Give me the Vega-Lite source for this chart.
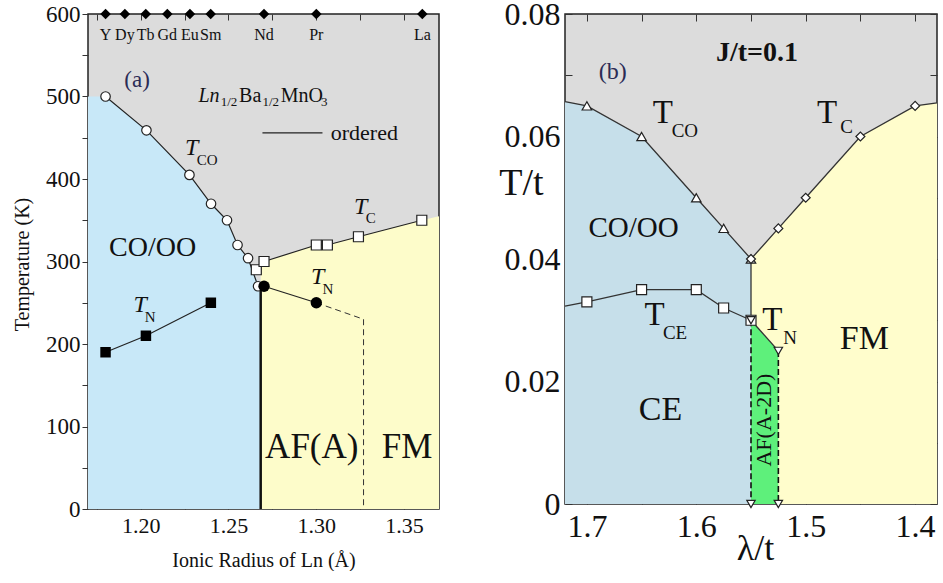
{
  "$schema": "https://vega.github.io/schema/vega-lite/v6.json",
  "padding": {"left": 11, "top": -3, "right": 0, "bottom": 0},
  "background": "white",
  "bounds": "flush",
  "spacing": 126,
  "config": {
    "font": "Liberation Serif, serif",
    "view": {"stroke": "#222", "strokeWidth": 1.5, "fill": "#dcdcdc"},
    "text": {"font": "Liberation Serif, serif"},
    "axis": {"domain": false, "grid": false, "tickColor": "#333", "labelColor": "#111", "titleColor": "#111", "labelFont": "Liberation Serif, serif", "titleFont": "Liberation Serif, serif", "titleFontWeight": "normal"}
  },
  "datasets": {
    "L_blue": [
      {"x": 1.17, "y": 500}, {"x": 1.18, "y": 500}, {"x": 1.2033, "y": 459}, {"x": 1.2278, "y": 405},
      {"x": 1.2401, "y": 370}, {"x": 1.2492, "y": 350}, {"x": 1.2552, "y": 320}, {"x": 1.2612, "y": 304},
      {"x": 1.2669, "y": 275}, {"x": 1.2684, "y": 268}
    ],
    "L_yellow": [
      {"x": 1.2684, "y": 292}, {"x": 1.2703, "y": 300}, {"x": 1.3001, "y": 320}, {"x": 1.3064, "y": 320},
      {"x": 1.3241, "y": 330}, {"x": 1.3602, "y": 350}, {"x": 1.37, "y": 355}
    ],
    "L_lines": [
      {"s": "co", "o": 1, "x": 1.18, "y": 500}, {"s": "co", "o": 2, "x": 1.2033, "y": 459},
      {"s": "co", "o": 3, "x": 1.2278, "y": 405}, {"s": "co", "o": 4, "x": 1.2401, "y": 370},
      {"s": "co", "o": 5, "x": 1.2492, "y": 350}, {"s": "co", "o": 6, "x": 1.2552, "y": 320},
      {"s": "co", "o": 7, "x": 1.2612, "y": 304}, {"s": "co", "o": 8, "x": 1.2669, "y": 270},
      {"s": "tc", "o": 1, "x": 1.2703, "y": 300}, {"s": "tc", "o": 2, "x": 1.3001, "y": 320},
      {"s": "tc", "o": 3, "x": 1.3064, "y": 320}, {"s": "tc", "o": 4, "x": 1.3241, "y": 330},
      {"s": "tc", "o": 5, "x": 1.3602, "y": 350},
      {"s": "tnr", "o": 1, "x": 1.2703, "y": 270}, {"s": "tnr", "o": 2, "x": 1.3001, "y": 250},
      {"s": "tnl", "o": 1, "x": 1.18, "y": 190}, {"s": "tnl", "o": 2, "x": 1.203, "y": 210},
      {"s": "tnl", "o": 3, "x": 1.24, "y": 250},
      {"s": "leg", "o": 1, "x": 1.2694, "y": 456}, {"s": "leg", "o": 2, "x": 1.3036, "y": 456},
      {"s": "vert", "o": 1, "x": 1.2684, "y": 0}, {"s": "vert", "o": 2, "x": 1.2684, "y": 270},
      {"s": "dash", "o": 1, "x": 1.3001, "y": 250}, {"s": "dash", "o": 2, "x": 1.327, "y": 230},
      {"s": "dash", "o": 3, "x": 1.327, "y": 0}
    ],
    "L_pts": [
      {"t": "co", "x": 1.18, "y": 500}, {"t": "co", "x": 1.2033, "y": 459}, {"t": "co", "x": 1.2278, "y": 405},
      {"t": "co", "x": 1.2401, "y": 370}, {"t": "co", "x": 1.2492, "y": 350}, {"t": "co", "x": 1.2552, "y": 320},
      {"t": "co", "x": 1.2612, "y": 304}, {"t": "co", "x": 1.2669, "y": 270},
      {"t": "sqo", "x": 1.2659, "y": 290}, {"t": "sqo", "x": 1.2703, "y": 300}, {"t": "sqo", "x": 1.3001, "y": 320},
      {"t": "sqo", "x": 1.3064, "y": 320}, {"t": "sqo", "x": 1.3241, "y": 330}, {"t": "sqo", "x": 1.3602, "y": 350},
      {"t": "cf", "x": 1.2703, "y": 270}, {"t": "cf", "x": 1.3001, "y": 250},
      {"t": "sqf", "x": 1.18, "y": 190}, {"t": "sqf", "x": 1.203, "y": 210}, {"t": "sqf", "x": 1.24, "y": 250}
    ],
    "L_elem": [
      {"t": "Y", "x": 1.18, "y": 600}, {"t": "Dy", "x": 1.191, "y": 600}, {"t": "Tb", "x": 1.2029, "y": 600},
      {"t": "Gd", "x": 1.2152, "y": 600}, {"t": "Eu", "x": 1.2281, "y": 600}, {"t": "Sm", "x": 1.2399, "y": 600},
      {"t": "Nd", "x": 1.2703, "y": 600}, {"t": "Pr", "x": 1.3001, "y": 600}, {"t": "La", "x": 1.3605, "y": 600}
    ],
    "L_text": [
      {"k": "big28", "t": "CO/OO", "x": 1.2068, "y": 316},
      {"k": "big35", "t": "AF(A)", "x": 1.2975, "y": 75},
      {"k": "big35", "t": "FM", "x": 1.3518, "y": 75},
      {"k": "panel", "t": "(a)", "x": 1.198, "y": 520},
      {"k": "ord", "t": "ordered", "x": 1.3083, "y": 456},
      {"k": "elem", "t": "Y", "x": 1.18, "y": 574}, {"k": "elem", "t": "Dy", "x": 1.191, "y": 574},
      {"k": "elem", "t": "Tb", "x": 1.2029, "y": 574}, {"k": "elem", "t": "Gd", "x": 1.2152, "y": 574},
      {"k": "elem", "t": "Eu", "x": 1.2281, "y": 574}, {"k": "elem", "t": "Sm", "x": 1.2399, "y": 574},
      {"k": "elem", "t": "Nd", "x": 1.2703, "y": 574}, {"k": "elem", "t": "Pr", "x": 1.3001, "y": 574},
      {"k": "elem", "t": "La", "x": 1.3605, "y": 574},
      {"k": "Tit", "t": "T", "x": 1.2253, "y": 429}, {"k": "sub", "t": "CO", "x": 1.232, "y": 417},
      {"k": "Tit", "t": "T", "x": 1.3216, "y": 358}, {"k": "sub", "t": "C", "x": 1.3283, "y": 347},
      {"k": "Tit", "t": "T", "x": 1.297, "y": 273}, {"k": "sub", "t": "N", "x": 1.3036, "y": 261},
      {"k": "Tit", "t": "T", "x": 1.1959, "y": 239}, {"k": "sub", "t": "N", "x": 1.2023, "y": 227},
      {"k": "fi", "t": "Ln", "x": 1.2329, "y": 493.5},
      {"k": "fs", "t": "1/2", "x": 1.2456, "y": 489},
      {"k": "fm", "t": "Ba", "x": 1.2561, "y": 493.5},
      {"k": "fs", "t": "1/2", "x": 1.2694, "y": 489},
      {"k": "fm", "t": "MnO", "x": 1.2798, "y": 493.5},
      {"k": "fs", "t": "3", "x": 1.3028, "y": 489}
    ],
    "R_blue": [
      {"x": 1.72, "y": 0.0657}, {"x": 1.7, "y": 0.065}, {"x": 1.65, "y": 0.06}, {"x": 1.6, "y": 0.05},
      {"x": 1.575, "y": 0.045}, {"x": 1.55, "y": 0.04}
    ],
    "R_yellow": [
      {"x": 1.55, "y": 0.04}, {"x": 1.525, "y": 0.045}, {"x": 1.5, "y": 0.05}, {"x": 1.45, "y": 0.06},
      {"x": 1.4, "y": 0.065}, {"x": 1.38, "y": 0.0655}
    ],
    "R_green": [
      {"x": 1.55, "y": 0.03}, {"x": 1.525, "y": 0.025}
    ],
    "R_lines": [
      {"s": "tco", "o": 1, "x": 1.72, "y": 0.0657}, {"s": "tco", "o": 2, "x": 1.7, "y": 0.065},
      {"s": "tco", "o": 3, "x": 1.65, "y": 0.06}, {"s": "tco", "o": 4, "x": 1.6, "y": 0.05},
      {"s": "tco", "o": 5, "x": 1.575, "y": 0.045}, {"s": "tco", "o": 6, "x": 1.55, "y": 0.04},
      {"s": "tc", "o": 1, "x": 1.55, "y": 0.04}, {"s": "tc", "o": 2, "x": 1.525, "y": 0.045},
      {"s": "tc", "o": 3, "x": 1.5, "y": 0.05}, {"s": "tc", "o": 4, "x": 1.45, "y": 0.06},
      {"s": "tc", "o": 5, "x": 1.4, "y": 0.065}, {"s": "tc", "o": 6, "x": 1.38, "y": 0.0655},
      {"s": "tce", "o": 1, "x": 1.72, "y": 0.0323}, {"s": "tce", "o": 2, "x": 1.7, "y": 0.033},
      {"s": "tce", "o": 3, "x": 1.65, "y": 0.035}, {"s": "tce", "o": 4, "x": 1.6, "y": 0.035},
      {"s": "tce", "o": 5, "x": 1.575, "y": 0.032}, {"s": "tce", "o": 6, "x": 1.55, "y": 0.03},
      {"s": "tn", "o": 1, "x": 1.55, "y": 0.03}, {"s": "tn", "o": 2, "x": 1.525, "y": 0.025},
      {"s": "v1", "o": 1, "x": 1.55, "y": 0.04}, {"s": "v1", "o": 2, "x": 1.55, "y": 0.03},
      {"s": "d1", "o": 1, "x": 1.55, "y": 0.03}, {"s": "d1", "o": 2, "x": 1.55, "y": 0},
      {"s": "d2", "o": 1, "x": 1.525, "y": 0.025}, {"s": "d2", "o": 2, "x": 1.525, "y": 0}
    ],
    "R_pts": [
      {"t": "tri", "x": 1.7, "y": 0.065}, {"t": "tri", "x": 1.65, "y": 0.06}, {"t": "tri", "x": 1.6, "y": 0.05},
      {"t": "tri", "x": 1.575, "y": 0.045}, {"t": "tri", "x": 1.55, "y": 0.04},
      {"t": "dia", "x": 1.55, "y": 0.04}, {"t": "dia", "x": 1.525, "y": 0.045}, {"t": "dia", "x": 1.5, "y": 0.05},
      {"t": "dia", "x": 1.45, "y": 0.06}, {"t": "dia", "x": 1.4, "y": 0.065},
      {"t": "sq", "x": 1.7, "y": 0.033}, {"t": "sq", "x": 1.65, "y": 0.035}, {"t": "sq", "x": 1.6, "y": 0.035},
      {"t": "sq", "x": 1.575, "y": 0.032}, {"t": "sq", "x": 1.55, "y": 0.03},
      {"t": "trid", "x": 1.55, "y": 0.03}, {"t": "trid", "x": 1.525, "y": 0.025},
      {"t": "trid", "x": 1.55, "y": 0.0}, {"t": "trid", "x": 1.525, "y": 0.0}
    ],
    "R_text": [
      {"k": "T", "t": "T", "x": 1.6397, "y": 0.0622}, {"k": "sub", "t": "CO", "x": 1.6225, "y": 0.0599},
      {"k": "T", "t": "T", "x": 1.4897, "y": 0.0622}, {"k": "sub", "t": "C", "x": 1.4685, "y": 0.0605},
      {"k": "T", "t": "T", "x": 1.6473, "y": 0.0292}, {"k": "sub", "t": "CE", "x": 1.6305, "y": 0.0269},
      {"k": "T", "t": "T", "x": 1.5397, "y": 0.0284}, {"k": "sub", "t": "N", "x": 1.5205, "y": 0.0262},
      {"k": "panel", "t": "(b)", "x": 1.6764, "y": 0.0705},
      {"k": "J", "t": "J/t=0.1", "x": 1.5445, "y": 0.0736},
      {"k": "big29", "t": "CO/OO", "x": 1.6573, "y": 0.045},
      {"k": "big34", "t": "CE", "x": 1.6327, "y": 0.0153},
      {"k": "big34", "t": "FM", "x": 1.4464, "y": 0.0269},
      {"k": "rot", "t": "AF(A-2D)", "x": 1.5382, "y": 0.0137}
    ]
  },
  "hconcat": [
    {
      "width": 351,
      "height": 495,
      "resolve": {"axis": {"x": "independent", "y": "independent"}},
      "layer": [
        {
          "encoding": {
            "x": {"field": "x", "type": "quantitative", "scale": {"domain": [1.17, 1.37], "nice": false, "zero": false},
              "axis": {"title": "Ionic Radius of Ln (Å)", "titleFontSize": 20, "titleY": 51, "titleBaseline": "middle",
                "values": [1.175, 1.2, 1.225, 1.25, 1.275, 1.3, 1.325, 1.35],
                "labelExpr": "abs(datum.value*20 - round(datum.value*20)) < 0.001 ? format(datum.value, '.2f') : ''",
                "labelFontSize": 22, "tickSize": -6, "labelPadding": 12}},
            "y": {"field": "y", "type": "quantitative", "scale": {"domain": [0, 600], "nice": false},
              "axis": {"title": "Temperature (K)", "titleFontSize": 20, "titleX": -66, "titleY": 250, "titleBaseline": "middle", "titleAlign": "center",
                "values": [0, 50, 100, 150, 200, 250, 300, 350, 400, 450, 500, 550, 600],
                "labelExpr": "datum.value % 100 == 0 ? datum.label : ''",
                "labelFontSize": 23, "tickSize": 6, "labelPadding": 2}}
          },
          "layer": [
            {"data": {"name": "L_blue"}, "mark": {"type": "area", "color": "#c8e8f8", "opacity": 1}, "encoding": {"y2": {"datum": 0}}},
            {"data": {"name": "L_yellow"}, "mark": {"type": "area", "color": "#fdfcca", "opacity": 1}, "encoding": {"y2": {"datum": 0}}},
            {"data": {"name": "L_lines"}, "transform": [{"filter": "indexof(['co','tc','tnr','tnl','leg'], datum.s) >= 0"}],
              "mark": {"type": "line", "color": "#222", "strokeWidth": 1.2},
              "encoding": {"detail": {"field": "s"}, "order": {"field": "o"}}},
            {"data": {"name": "L_lines"}, "transform": [{"filter": "datum.s == 'vert'"}],
              "mark": {"type": "line", "color": "#111", "strokeWidth": 2.5},
              "encoding": {"order": {"field": "o"}}},
            {"data": {"name": "L_lines"}, "transform": [{"filter": "datum.s == 'dash'"}],
              "mark": {"type": "line", "color": "#333", "strokeWidth": 1, "strokeDash": [6, 4]},
              "encoding": {"order": {"field": "o"}}},
            {"data": {"name": "L_pts"}, "transform": [{"filter": "datum.t == 'co'"}],
              "mark": {"type": "point", "shape": "circle", "filled": true, "fill": "white", "stroke": "#222", "strokeWidth": 1.2, "size": 90, "opacity": 1}},
            {"data": {"name": "L_pts"}, "transform": [{"filter": "datum.t == 'sqo'"}],
              "mark": {"type": "point", "shape": "square", "filled": true, "fill": "white", "stroke": "#222", "strokeWidth": 1.2, "size": 100, "opacity": 1}},
            {"data": {"name": "L_pts"}, "transform": [{"filter": "datum.t == 'cf'"}],
              "mark": {"type": "point", "shape": "circle", "filled": true, "color": "#000", "size": 130, "opacity": 1}},
            {"data": {"name": "L_pts"}, "transform": [{"filter": "datum.t == 'sqf'"}],
              "mark": {"type": "point", "shape": "square", "filled": true, "color": "#000", "size": 110, "opacity": 1}},
            {"data": {"name": "L_text"}, "transform": [{"filter": "datum.k == 'big28'"}],
              "mark": {"type": "text", "fontSize": 28, "align": "center", "baseline": "middle", "color": "#111"},
              "encoding": {"text": {"field": "t"}}},
            {"data": {"name": "L_text"}, "transform": [{"filter": "datum.k == 'big35'"}],
              "mark": {"type": "text", "fontSize": 35, "align": "center", "baseline": "middle", "color": "#111"},
              "encoding": {"text": {"field": "t"}}},
            {"data": {"name": "L_text"}, "transform": [{"filter": "datum.k == 'panel'"}],
              "mark": {"type": "text", "fontSize": 23, "align": "center", "baseline": "middle", "color": "#2b2b55"},
              "encoding": {"text": {"field": "t"}}},
            {"data": {"name": "L_text"}, "transform": [{"filter": "datum.k == 'ord'"}],
              "mark": {"type": "text", "fontSize": 22, "align": "left", "baseline": "middle", "color": "#111"},
              "encoding": {"text": {"field": "t"}}},
            {"data": {"name": "L_text"}, "transform": [{"filter": "datum.k == 'elem'"}],
              "mark": {"type": "text", "fontSize": 16, "align": "center", "baseline": "middle", "color": "#111"},
              "encoding": {"text": {"field": "t"}}},
            {"data": {"name": "L_text"}, "transform": [{"filter": "datum.k == 'Tit'"}],
              "mark": {"type": "text", "fontSize": 24, "fontStyle": "italic", "align": "left", "baseline": "alphabetic", "color": "#111"},
              "encoding": {"text": {"field": "t"}}},
            {"data": {"name": "L_text"}, "transform": [{"filter": "datum.k == 'sub'"}],
              "mark": {"type": "text", "fontSize": 15, "align": "left", "baseline": "alphabetic", "color": "#111"},
              "encoding": {"text": {"field": "t"}}},
            {"data": {"name": "L_text"}, "transform": [{"filter": "datum.k == 'fi'"}],
              "mark": {"type": "text", "fontSize": 20, "fontStyle": "italic", "align": "left", "baseline": "alphabetic", "color": "#111"},
              "encoding": {"text": {"field": "t"}}},
            {"data": {"name": "L_text"}, "transform": [{"filter": "datum.k == 'fm'"}],
              "mark": {"type": "text", "fontSize": 20, "align": "left", "baseline": "alphabetic", "color": "#111"},
              "encoding": {"text": {"field": "t"}}},
            {"data": {"name": "L_text"}, "transform": [{"filter": "datum.k == 'fs'"}],
              "mark": {"type": "text", "fontSize": 13, "align": "left", "baseline": "alphabetic", "color": "#111"},
              "encoding": {"text": {"field": "t"}}}
          ]
        },
        {
          "data": {"name": "L_elem"},
          "mark": {"type": "point", "shape": "diamond", "filled": true, "color": "#000", "size": 110, "opacity": 1},
          "encoding": {
            "x": {"field": "x", "type": "quantitative", "scale": {"domain": [1.17, 1.37], "nice": false, "zero": false},
              "axis": {"orient": "top", "title": null, "labels": false, "tickSize": -6,
                "values": [1.175, 1.2, 1.225, 1.25, 1.275, 1.3, 1.325, 1.35]}},
            "y": {"field": "y", "type": "quantitative", "scale": {"domain": [0, 600], "nice": false}, "axis": null}
          }
        }
      ]
    },
    {
      "width": 372,
      "height": 490,
      "resolve": {"axis": {"x": "independent", "y": "independent"}},
      "layer": [
        {
          "encoding": {
            "x": {"field": "x", "type": "quantitative", "scale": {"domain": [1.38, 1.72], "reverse": true, "nice": false, "zero": false},
              "axis": {"title": "λ/t", "titleFontSize": 36, "titleY": 44, "titleX": 190, "titleBaseline": "middle", "titleAlign": "center",
                "values": [1.4, 1.45, 1.5, 1.55, 1.6, 1.65, 1.7],
                "labelExpr": "abs(datum.value*10 - round(datum.value*10)) < 0.001 ? format(datum.value, '.1f') : ''",
                "labelFontSize": 32, "tickSize": -7, "labelPadding": 14}},
            "y": {"field": "y", "type": "quantitative", "scale": {"domain": [0, 0.08], "nice": false},
              "axis": {"title": "T/t", "titleFontSize": 38, "titleAngle": 0, "titleX": -44, "titleY": 169, "titleBaseline": "middle", "titleAlign": "center",
                "values": [0, 0.01, 0.02, 0.03, 0.04, 0.05, 0.06, 0.07, 0.08],
                "labelExpr": "abs(datum.value*50 - round(datum.value*50)) < 0.001 ? (datum.value == 0 ? '0' : format(datum.value, '.2f')) : ''",
                "labelFontSize": 32, "tickSize": -7, "labelPadding": 12}}
          },
          "layer": [
            {"data": {"name": "R_blue"}, "mark": {"type": "area", "color": "#c6dfea", "opacity": 1}, "encoding": {"y2": {"datum": 0}}},
            {"data": {"name": "R_yellow"}, "mark": {"type": "area", "color": "#fffdcc", "opacity": 1}, "encoding": {"y2": {"datum": 0}}},
            {"data": {"name": "R_green"}, "mark": {"type": "area", "color": "#5ef07b", "opacity": 1}, "encoding": {"y2": {"datum": 0}}},
            {"data": {"name": "R_lines"}, "transform": [{"filter": "indexof(['tco','tc','tce','tn','v1'], datum.s) >= 0"}],
              "mark": {"type": "line", "color": "#333", "strokeWidth": 1.3},
              "encoding": {"detail": {"field": "s"}, "order": {"field": "o"}}},
            {"data": {"name": "R_lines"}, "transform": [{"filter": "indexof(['d1','d2'], datum.s) >= 0"}],
              "mark": {"type": "line", "color": "#111", "strokeWidth": 1.6, "strokeDash": [6, 3]},
              "encoding": {"detail": {"field": "s"}, "order": {"field": "o"}}},
            {"data": {"name": "R_pts"}, "transform": [{"filter": "datum.t == 'tri'"}],
              "mark": {"type": "point", "shape": "triangle-up", "filled": true, "fill": "white", "stroke": "#222", "strokeWidth": 1.2, "size": 90, "opacity": 1}},
            {"data": {"name": "R_pts"}, "transform": [{"filter": "datum.t == 'dia'"}],
              "mark": {"type": "point", "shape": "diamond", "filled": true, "fill": "white", "stroke": "#222", "strokeWidth": 1.2, "size": 80, "opacity": 1}},
            {"data": {"name": "R_pts"}, "transform": [{"filter": "datum.t == 'sq'"}],
              "mark": {"type": "point", "shape": "square", "filled": true, "fill": "white", "stroke": "#222", "strokeWidth": 1.2, "size": 100, "opacity": 1}},
            {"data": {"name": "R_pts"}, "transform": [{"filter": "datum.t == 'trid'"}],
              "mark": {"type": "point", "shape": "triangle-down", "filled": true, "fill": "white", "stroke": "#222", "strokeWidth": 1.2, "size": 70, "opacity": 1}},
            {"data": {"name": "R_text"}, "transform": [{"filter": "datum.k == 'T'"}],
              "mark": {"type": "text", "fontSize": 33, "align": "left", "baseline": "alphabetic", "color": "#111"},
              "encoding": {"text": {"field": "t"}}},
            {"data": {"name": "R_text"}, "transform": [{"filter": "datum.k == 'sub'"}],
              "mark": {"type": "text", "fontSize": 19, "align": "left", "baseline": "alphabetic", "color": "#111"},
              "encoding": {"text": {"field": "t"}}},
            {"data": {"name": "R_text"}, "transform": [{"filter": "datum.k == 'panel'"}],
              "mark": {"type": "text", "fontSize": 24, "align": "center", "baseline": "middle", "color": "#2b2b55"},
              "encoding": {"text": {"field": "t"}}},
            {"data": {"name": "R_text"}, "transform": [{"filter": "datum.k == 'J'"}],
              "mark": {"type": "text", "fontSize": 28, "fontWeight": "bold", "align": "center", "baseline": "middle", "color": "#111"},
              "encoding": {"text": {"field": "t"}}},
            {"data": {"name": "R_text"}, "transform": [{"filter": "datum.k == 'big29'"}],
              "mark": {"type": "text", "fontSize": 29, "align": "center", "baseline": "middle", "color": "#111"},
              "encoding": {"text": {"field": "t"}}},
            {"data": {"name": "R_text"}, "transform": [{"filter": "datum.k == 'big34'"}],
              "mark": {"type": "text", "fontSize": 34, "align": "center", "baseline": "middle", "color": "#111"},
              "encoding": {"text": {"field": "t"}}},
            {"data": {"name": "R_text"}, "transform": [{"filter": "datum.k == 'rot'"}],
              "mark": {"type": "text", "fontSize": 22, "angle": 270, "align": "center", "baseline": "middle", "color": "#111"},
              "encoding": {"text": {"field": "t"}}}
          ]
        },
        {
          "data": {"name": "R_pts"},
          "mark": {"type": "point", "opacity": 0},
          "encoding": {
            "x": {"field": "x", "type": "quantitative", "scale": {"domain": [1.38, 1.72], "reverse": true, "nice": false, "zero": false},
              "axis": {"orient": "top", "title": null, "labels": false, "tickSize": -7, "values": [1.4, 1.45, 1.5, 1.55, 1.6, 1.65, 1.7]}},
            "y": {"field": "y", "type": "quantitative", "scale": {"domain": [0, 0.08], "nice": false},
              "axis": {"orient": "right", "title": null, "labels": false, "tickSize": -7, "values": [0, 0.01, 0.02, 0.03, 0.04, 0.05, 0.06, 0.07, 0.08]}}
          }
        }
      ]
    }
  ]
}
